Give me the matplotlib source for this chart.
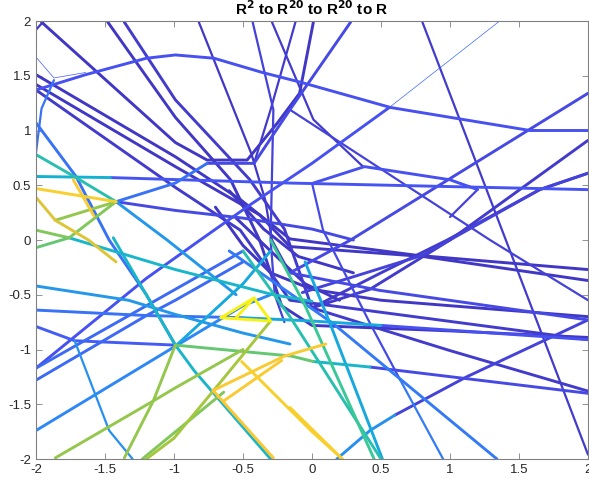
import matplotlib
matplotlib.use("Agg")
import matplotlib.pyplot as plt
from matplotlib.colors import LinearSegmentedColormap

# parula-like colormap
parula = LinearSegmentedColormap.from_list("parula", [
    (0.00, (0.2422, 0.1504, 0.6603)),
    (0.125, (0.2810, 0.3228, 0.9579)),
    (0.25, (0.1786, 0.5289, 0.9682)),
    (0.375, (0.0689, 0.6948, 0.8394)),
    (0.5, (0.2161, 0.7843, 0.5923)),
    (0.625, (0.6720, 0.7793, 0.2227)),
    (0.75, (0.9970, 0.7659, 0.2199)),
    (0.875, (0.9598, 0.8289, 0.1689)),
    (1.00, (0.9763, 0.9831, 0.0538)),
])

title = r'R$^{\mathbf{2}}$ to R$^{\mathbf{20}}$ to R$^{\mathbf{20}}$ to R'
xticks = [-2, -1.5, -1, -0.5, 0, 0.5, 1, 1.5, 2]
yticks = [-2, -1.5, -1, -0.5, 0, 0.5, 1, 1.5, 2]

# polylines: x list, y list, output value (colour) and stroke class
line_x = [
    [-2.00, -1.95],
    [-1.96, -0.99, -0.76, -0.47, -0.25, -0.09, 0.01],
    [-2.00, -1.64, -1.20, -0.99, -0.71, -0.36, -0.08, 0.57, 1.05, 1.58, 2.00],
    [-2.00, -0.99, -0.52, -0.16, 0.76, 2.00],
    [-2.00, -0.99, -0.38, -0.16, 0.80, 2.00],
    [-2.00, -0.99, -0.52, -0.30, -0.16, 2.00],
    [-1.48, -0.99, -0.59, -0.38, -0.22, 0.00, 1.00, 2.00],
    [-1.36, -0.99, -0.45, -0.20, 0.00, 1.00, 2.00],
    [-0.82, -0.44, -0.34, -0.29, -0.16],
    [-0.43, -0.28, -0.30, -0.27, -0.20],
    [-0.29, 0.01, 0.37],
    [-0.12, -0.30, -0.42],
    [0.28, -0.16, -0.42, -0.76],
    [-0.76, -0.99, -1.42],
    [1.35, 0.56],
    [0.56, 0.00, -0.45, -0.81, -1.20, -2.00],
    [-0.16, 1.29, 2.00],
    [-2.00, -1.46],
    [-1.46, -0.16, 2.00],
    [0.01, 0.38, 1.00, 1.20],
    [1.00, 1.20],
    [2.00, 0.28, -0.16, 0.49, 2.00],
    [0.80, 2.00],
    [-0.07, 0.80, 1.65, 2.00],
    [2.00, 1.00, 0.42, 0.00],
    [2.00, 1.65, 0.98, 0.50, 0.00],
    [0.01, 0.42],
    [0.42, 2.00],
    [2.00, 1.12, 0.60],
    [0.60, 0.42, 0.18],
    [0.00, 0.08, 0.42, 0.64],
    [0.64, 0.95],
    [-0.60, 0.15, 1.34],
    [-0.05, 0.13, 0.51],
    [-0.50, -0.16, 0.50],
    [-0.30, -0.05, 0.45],
    [-0.51, 0.00, 0.22],
    [-0.71, -0.20, 0.10],
    [-0.64, -0.22],
    [-0.66, -0.42, -0.30, -0.66],
    [-0.55, -0.42],
    [-0.72, -0.28],
    [-0.30, -0.71, -1.00, -1.20],
    [-1.86, -1.15, -0.99, -0.50],
    [-1.36, -1.15, -0.99],
    [-0.99, -0.15, 0.01],
    [-1.76, -0.99, -0.28, 0.00],
    [-2.00, -1.76],
    [-1.44, -0.99, -0.85, -0.30],
    [-2.00, -1.33, -0.99, -0.50, -0.16],
    [-2.00, -1.20, -0.50],
    [-0.50, 0.00, 0.50],
    [0.50, 2.00],
    [-2.00, -1.72, -0.99],
    [-1.72, -1.47, -1.30],
    [-2.00, -1.20, -0.99, -0.50],
    [-2.00, -1.20, -0.50],
    [-2.00, -0.99, -0.50, -0.30],
    [-0.99, -0.50, -0.30],
    [-2.00, -1.42],
    [-1.73, -1.58],
    [-2.00, -1.86, -1.62, -1.42],
    [-1.86, -1.42],
    [-2.00, -1.76, -1.42],
    [-2.00, -1.71, -1.42],
    [-1.42, -0.99, -0.50, 0.00, 0.30],
    [-1.42, -1.05, -0.70, -0.55],
    [-2.00, -1.71, -1.47, -1.20, -0.99],
    [-1.87, -1.96, -2.00],
    [-2.00, -1.87, -1.64],
    [-0.70, -0.50, -0.30, 0.00, 0.50, 2.00],
    [-0.60, -0.35, -0.10, 0.30],
    [-0.16, 0.22],
    [-0.55, -0.30, -0.05, 0.20],
    [-1.23, -0.64],
]
line_y = [
    [1.92, 1.99],
    [1.99, 0.89, 0.73, 0.73, 1.07, 1.34, 1.99],
    [1.37, 1.51, 1.66, 1.69, 1.66, 1.53, 1.44, 1.21, 1.11, 1.00, 1.00],
    [1.51, 0.76, 0.37, 0.01, -0.14, -0.27],
    [1.42, 0.67, 0.23, -0.06, -0.15, -0.37],
    [1.37, 0.48, 0.09, -0.30, -0.55, -0.91],
    [1.99, 1.12, 0.55, 0.00, -0.60, -0.78, -0.83, -0.89],
    [1.99, 1.28, 0.55, 0.10, -0.62, -1.01, -1.38],
    [1.99, 0.79, 0.37, 0.00, -0.30],
    [1.99, 1.19, 0.00, -0.50, -0.75],
    [1.99, 1.10, 0.67],
    [1.99, 1.19, 0.70],
    [1.99, 1.19, 0.70, 0.70],
    [0.70, 0.52, 0.35],
    [1.99, 1.21],
    [1.21, 0.70, 0.32, 0.00, -0.35, -1.17],
    [1.19, 0.00, -0.55],
    [0.58, 0.57],
    [0.57, 0.52, 0.46],
    [0.52, 0.67, 0.55, 0.46],
    [0.21, 0.46],
    [1.34, 0.00, -0.30, -0.46, -0.73],
    [1.99, -1.96],
    [-0.48, -0.14, 0.46, 0.61],
    [0.91, 0.00, -0.45, -0.62],
    [0.61, 0.46, 0.00, -0.30, -0.62],
    [-1.11, -1.16],
    [-1.16, -1.40],
    [-0.73, -1.25, -1.60],
    [-1.60, -1.74, -2.00],
    [0.52, 0.09, -0.76, -1.28],
    [-1.28, -2.00],
    [-0.10, -0.76, -2.00],
    [-0.20, -0.76, -2.00],
    [-0.10, -0.70, -2.00],
    [0.00, -0.60, -2.00],
    [-1.11, -1.75, -2.00],
    [-1.37, -1.06, -0.95],
    [-1.47, -1.10],
    [-0.71, -0.53, -0.74, -0.71],
    [-0.71, -0.53],
    [-1.37, -1.99],
    [-0.74, -1.37, -1.81, -2.00],
    [-1.99, -1.47, -1.35, -1.00],
    [-1.99, -1.47, -0.96],
    [-0.96, -1.06, -1.11],
    [0.02, -0.27, -0.50, -0.56],
    [-0.07, 0.02],
    [0.02, -0.96, -1.20, -2.00],
    [-0.42, -0.55, -0.68, -0.85, -0.95],
    [-0.64, -0.69, -0.71],
    [-0.71, -0.74, -0.78],
    [-0.78, -0.91],
    [-0.79, -0.92, -0.96],
    [-0.92, -1.74, -2.00],
    [-1.28, -0.69, -0.55, -0.20],
    [-1.17, -0.60, -0.10],
    [-1.74, -0.97, -0.60, -0.50],
    [-0.97, -0.40, -0.10],
    [0.47, 0.35],
    [0.55, 0.22],
    [0.39, 0.18, 0.00, -0.20],
    [0.18, 0.35],
    [0.09, 0.02, 0.35],
    [0.78, 0.57, 0.35],
    [0.35, 0.27, 0.20, 0.10, 0.00],
    [0.35, 0.00, -0.35, -0.50],
    [1.07, 0.58, 0.00, -0.50, -0.96],
    [1.46, 1.20, 0.80],
    [1.67, 1.48, 1.53],
    [0.30, -0.05, -0.30, -0.45, -0.55, -0.70],
    [0.45, 0.10, -0.15, -0.30],
    [-1.53, -2.00],
    [0.20, -0.10, -0.40, -0.55],
    [-2.00, -1.39],
]
line_val = [
    0.05, 0.05, 0.12, 0.05, 0.05, 0.06, 0.05, 0.06, 0.05, 0.08,
    0.06, 0.06, 0.10, 0.20, 0.18, 0.12, 0.08, 0.38, 0.13, 0.12,
    0.08, 0.10, 0.06, 0.08, 0.06, 0.06, 0.40, 0.10, 0.08, 0.28,
    0.10, 0.22, 0.22, 0.35, 0.45, 0.50, 0.85, 0.80, 0.80, 0.97,
    0.97, 0.78, 0.62, 0.60, 0.60, 0.55, 0.40, 0.55, 0.40, 0.30,
    0.20, 0.35, 0.12, 0.15, 0.28, 0.18, 0.18, 0.25, 0.35, 0.85,
    0.80, 0.70, 0.60, 0.58, 0.45, 0.10, 0.30, 0.20, 0.20, 0.15,
    0.05, 0.05, 0.85, 0.05, 0.58,
]
# stroke class: 0 = hairline, 1 = medium, 2 = thick
line_kind = [
    1, 2, 2, 2, 2, 2, 2, 2, 1, 1,
    1, 1, 2, 2, 0, 2, 1, 2, 2, 2,
    1, 2, 1, 2, 2, 2, 2, 2, 2, 2,
    1, 1, 2, 2, 2, 2, 2, 2, 2, 2,
    2, 2, 2, 2, 2, 2, 2, 2, 2, 2,
    2, 2, 2, 2, 1, 2, 2, 2, 2, 2,
    2, 2, 2, 2, 2, 2, 2, 2, 1, 0,
    2, 2, 2, 2, 2,
]
kind_width = {0: 0.5, 1: 1.6, 2: 2.1}

plt.rcParams['font.family'] = ['Liberation Sans', 'DejaVu Sans']
fig = plt.figure(figsize=(5.89, 4.82), dpi=100)
ax = fig.add_axes([36/589, 23/482, 552/589, 438/482])

for xs, ys, v, k in zip(line_x, line_y, line_val, line_kind):
    ax.plot(xs, ys, color=parula(v), lw=kind_width[k], zorder=2 + v,
            solid_capstyle='round', solid_joinstyle='round')

ax.set_xlim(-2, 2)
ax.set_ylim(-2, 2)
ax.set_xticks(xticks)
ax.set_yticks(yticks)
ax.set_xticklabels([f"{t:g}" for t in xticks])
ax.set_yticklabels([f"{t:g}" for t in yticks])
ax.tick_params(direction='in', top=True, right=True, length=4, width=0.6,
               color='#808080', labelsize=9.5, labelcolor='#262626')
for s in ax.spines.values():
    s.set_color('#808080')
    s.set_linewidth(0.8)
    s.set_zorder(10)
ax.set_title(title, fontsize=11, fontweight='bold', pad=4)

fig.savefig("out.png", dpi=100)
